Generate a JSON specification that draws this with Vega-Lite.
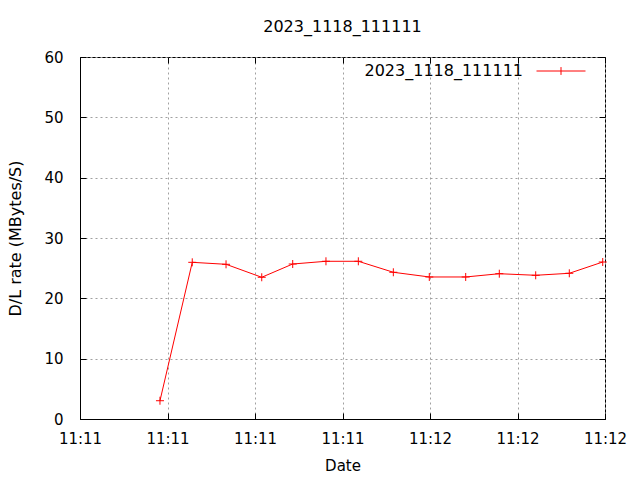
{
  "$schema": "https://vega.github.io/schema/vega-lite/v6.json",
  "width": 525,
  "height": 362,
  "autosize": {"type": "none"},
  "padding": {"left": 80, "top": 57, "right": 35, "bottom": 61},
  "background": "white",
  "title": {"text": "2023_1118_111111", "fontSize": 16, "fontWeight": "normal", "font": "DejaVu Sans", "color": "#000000", "anchor": "middle", "baseline": "alphabetic", "offset": -2},
  "config": {
    "view": {"stroke": "black", "strokeWidth": 1},
    "font": "DejaVu Sans",
    "axis": {
      "labelFont": "DejaVu Sans", "titleFont": "DejaVu Sans",
      "labelFontSize": 15, "titleFontSize": 15, "titleFontWeight": "normal",
      "labelColor": "#000000", "titleColor": "#000000",
      "domainColor": "black", "tickColor": "black",
      "gridColor": "#a0a0a0", "gridDash": [2, 3], "gridWidth": 1, "gridOpacity": 1
    }
  },
  "data": {"values": [
    {"t": "2023-11-18T11:11:29.140", "rate": 3.03, "series": "2023_1118_111111"},
    {"t": "2023-11-18T11:11:32.830", "rate": 25.97, "series": "2023_1118_111111"},
    {"t": "2023-11-18T11:11:36.690", "rate": 25.64, "series": "2023_1118_111111"},
    {"t": "2023-11-18T11:11:40.770", "rate": 23.49, "series": "2023_1118_111111"},
    {"t": "2023-11-18T11:11:44.310", "rate": 25.69, "series": "2023_1118_111111"},
    {"t": "2023-11-18T11:11:48.110", "rate": 26.14, "series": "2023_1118_111111"},
    {"t": "2023-11-18T11:11:51.810", "rate": 26.14, "series": "2023_1118_111111"},
    {"t": "2023-11-18T11:11:55.810", "rate": 24.32, "series": "2023_1118_111111"},
    {"t": "2023-11-18T11:11:59.920", "rate": 23.54, "series": "2023_1118_111111"},
    {"t": "2023-11-18T11:12:04.080", "rate": 23.54, "series": "2023_1118_111111"},
    {"t": "2023-11-18T11:12:07.920", "rate": 24.08, "series": "2023_1118_111111"},
    {"t": "2023-11-18T11:12:12.080", "rate": 23.82, "series": "2023_1118_111111"},
    {"t": "2023-11-18T11:12:15.920", "rate": 24.15, "series": "2023_1118_111111"},
    {"t": "2023-11-18T11:12:19.740", "rate": 26.02, "series": "2023_1118_111111"}
  ]},
  "layer": [
    {
      "mark": {"type": "line", "strokeWidth": 1, "point": {"shape": "M-1,0H1M0,-1V1", "filled": false, "size": 64, "strokeWidth": 1}},
      "encoding": {
        "x": {
          "field": "t", "type": "temporal", "title": "Date",
          "scale": {"domain": [
            {"year": 2023, "month": 11, "date": 18, "hours": 11, "minutes": 11, "seconds": 20},
            {"year": 2023, "month": 11, "date": 18, "hours": 11, "minutes": 12, "seconds": 20}
          ], "nice": false},
          "axis": {
            "orient": "bottom", "format": "%H:%M",
            "values": [
              {"year": 2023, "month": 11, "date": 18, "hours": 11, "minutes": 11, "seconds": 20},
              {"year": 2023, "month": 11, "date": 18, "hours": 11, "minutes": 11, "seconds": 30},
              {"year": 2023, "month": 11, "date": 18, "hours": 11, "minutes": 11, "seconds": 40},
              {"year": 2023, "month": 11, "date": 18, "hours": 11, "minutes": 11, "seconds": 50},
              {"year": 2023, "month": 11, "date": 18, "hours": 11, "minutes": 12, "seconds": 0},
              {"year": 2023, "month": 11, "date": 18, "hours": 11, "minutes": 12, "seconds": 10},
              {"year": 2023, "month": 11, "date": 18, "hours": 11, "minutes": 12, "seconds": 20}
            ],
            "grid": true, "tickSize": -6, "labelPadding": 18, "labelFlush": false, "labelOverlap": false,
            "titlePadding": 12
          }
        },
        "y": {
          "field": "rate", "type": "quantitative", "title": "D/L rate (MBytes/S)",
          "scale": {"domain": [0, 60], "nice": false, "zero": true},
          "axis": {"orient": "left", "values": [0, 10, 20, 30, 40, 50, 60], "grid": true, "tickSize": -6, "labelPadding": 23, "titlePadding": 20, "titleFontSize": 16}
        },
        "color": {
          "field": "series", "type": "nominal",
          "scale": {"domain": ["2023_1118_111111"], "range": ["#ff0000"]},
          "legend": {
            "title": null, "orient": "none", "legendX": 456, "legendY": -11,
            "padding": 0,
            "symbolType": "M-1,0H1M0,-0.16V0.16", "symbolSize": 2401, "symbolStrokeWidth": 1,
            "symbolFillColor": "transparent",
            "labelAlign": "right", "labelOffset": -63, "labelFontSize": 16, "labelFont": "DejaVu Sans", "labelColor": "#000000",
            "labelLimit": 400
          }
        }
      }
    },
    {
      "mark": {"type": "line", "opacity": 0},
      "encoding": {
        "x": {
          "field": "t", "type": "temporal",
          "axis": {
            "orient": "top", "labels": false, "title": null, "grid": false, "domain": false, "tickSize": -6,
            "values": [
              {"year": 2023, "month": 11, "date": 18, "hours": 11, "minutes": 11, "seconds": 20},
              {"year": 2023, "month": 11, "date": 18, "hours": 11, "minutes": 11, "seconds": 30},
              {"year": 2023, "month": 11, "date": 18, "hours": 11, "minutes": 11, "seconds": 40},
              {"year": 2023, "month": 11, "date": 18, "hours": 11, "minutes": 11, "seconds": 50},
              {"year": 2023, "month": 11, "date": 18, "hours": 11, "minutes": 12, "seconds": 0},
              {"year": 2023, "month": 11, "date": 18, "hours": 11, "minutes": 12, "seconds": 10},
              {"year": 2023, "month": 11, "date": 18, "hours": 11, "minutes": 12, "seconds": 20}
            ]
          }
        },
        "y": {
          "field": "rate", "type": "quantitative",
          "axis": {"orient": "right", "labels": false, "title": null, "grid": false, "domain": false, "tickSize": -6, "values": [0, 10, 20, 30, 40, 50, 60]}
        }
      }
    }
  ],
  "resolve": {"axis": {"x": "independent", "y": "independent"}}
}
